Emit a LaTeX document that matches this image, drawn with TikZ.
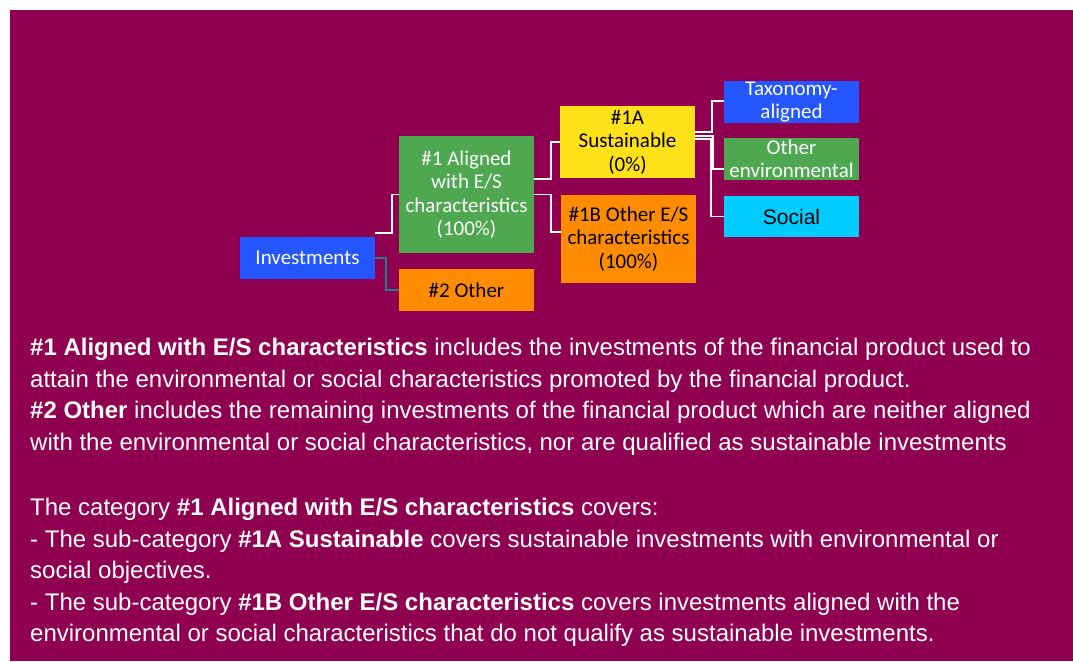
\documentclass[tikz,border=0pt]{standalone}
\usepackage{fontspec}
\setmainfont{Liberation Sans}
\newfontfamily\calib{Carlito}
\usetikzlibrary{positioning}

\definecolor{bgplum}{HTML}{8F0051}
\definecolor{boxblue}{HTML}{2457FF}
\definecolor{boxgreen}{HTML}{4EA84F}
\definecolor{boxorange}{HTML}{FF8C00}
\definecolor{boxyellow}{HTML}{FFE11A}
\definecolor{boxcyan}{HTML}{00CCFF}
\definecolor{linkteal}{HTML}{1F7F8F}

\begin{document}
\begin{tikzpicture}[x=1pt,y=-1pt,
	box/.style={shape=rectangle,minimum width=135pt,inner sep=0pt,align=center,
		font=\calib\fontsize{21}{23.5}\selectfont},
	link/.style={draw=white,line width=1.5pt},
	bodytext/.style={anchor=north west,align=left,inner sep=0pt,text=white,
		font=\fontsize{24}{31.5}\selectfont}]
	\useasboundingbox (0,0) rectangle (1073,661);
	\fill[bgplum] (10,10) rectangle (1073,661);

	% create the nodes.
	\node (invest) [box,fill=boxblue,text=white,minimum height=42pt] at (307.5,258) {Investments};
	\node (aligned) [box,fill=boxgreen,text=white,minimum height=117pt] at (466.5,194.5) {\#1 Aligned\\with E/S\\characteristics\\(100\%)};
	\node (other) [box,fill=boxorange,minimum height=42pt] at (466.5,290) {\#2 Other};
	\node (sust) [box,fill=boxyellow,minimum height=72pt] at (627.5,142) {\#1A\\Sustainable\\(0\%)};
	\node (otheres) [box,fill=boxorange,minimum height=88pt] at (628.5,239) {\#1B Other E/S\\characteristics\\(100\%)};
	\node (taxo) [box,fill=boxblue,text=white,minimum height=42pt] at (791.5,102) {Taxonomy-\\aligned};
	\node (otherenv) [box,fill=boxgreen,text=white,minimum height=42pt] at (791.5,159) {Other\\environmental};
	\node (social) [box,fill=boxcyan,minimum height=41pt,font=\fontsize{21}{24}\selectfont] at (791.5,216.5) {Social};

	% connect the nodes
	\draw[link] ([yshift=4pt]invest.north east) -- ++(17,0) |- (aligned.west);
	\draw[draw=linkteal,line width=1.5pt] (invest.east) -- ++(11,0) |- (other.west);
	\draw[link] ([yshift=15.5pt]aligned.east) -- ++(17,0) |- (sust.west);
	\draw[link] (aligned.east) -- ++(17,0) |- ([yshift=7pt]otheres.west);
	\draw[link] ([yshift=10pt]sust.east) -- ++(17,0) |- ([yshift=1pt]taxo.west);
	\draw[link] ([yshift=6pt]sust.east) -- ++(18,0) |- ([yshift=-10pt]otherenv.west);
	\draw[link] ([yshift=3pt]sust.east) -- ++(16,0) |- (social.west);

	% the text below
	\node (legend) [bodytext] at (30,338) {\textbf{\#1 Aligned with E/S characteristics} includes the investments of the financial product used to\\
		attain the environmental or social characteristics promoted by the financial product.\\
		\textbf{\#2 Other} includes the remaining investments of the financial product which are neither aligned\\
		with the environmental or social characteristics, nor are qualified as sustainable investments};
	\node (subcats) [bodytext] at (30,498) {The category \textbf{\#1 Aligned with E/S characteristics} covers:\\
		- The sub-category \textbf{\#1A Sustainable} covers sustainable investments with environmental or\\
		social objectives.\\
		- The sub-category \textbf{\#1B Other E/S characteristics} covers investments aligned with the\\
		environmental or social characteristics that do not qualify as sustainable investments.};
\end{tikzpicture}
\end{document}
